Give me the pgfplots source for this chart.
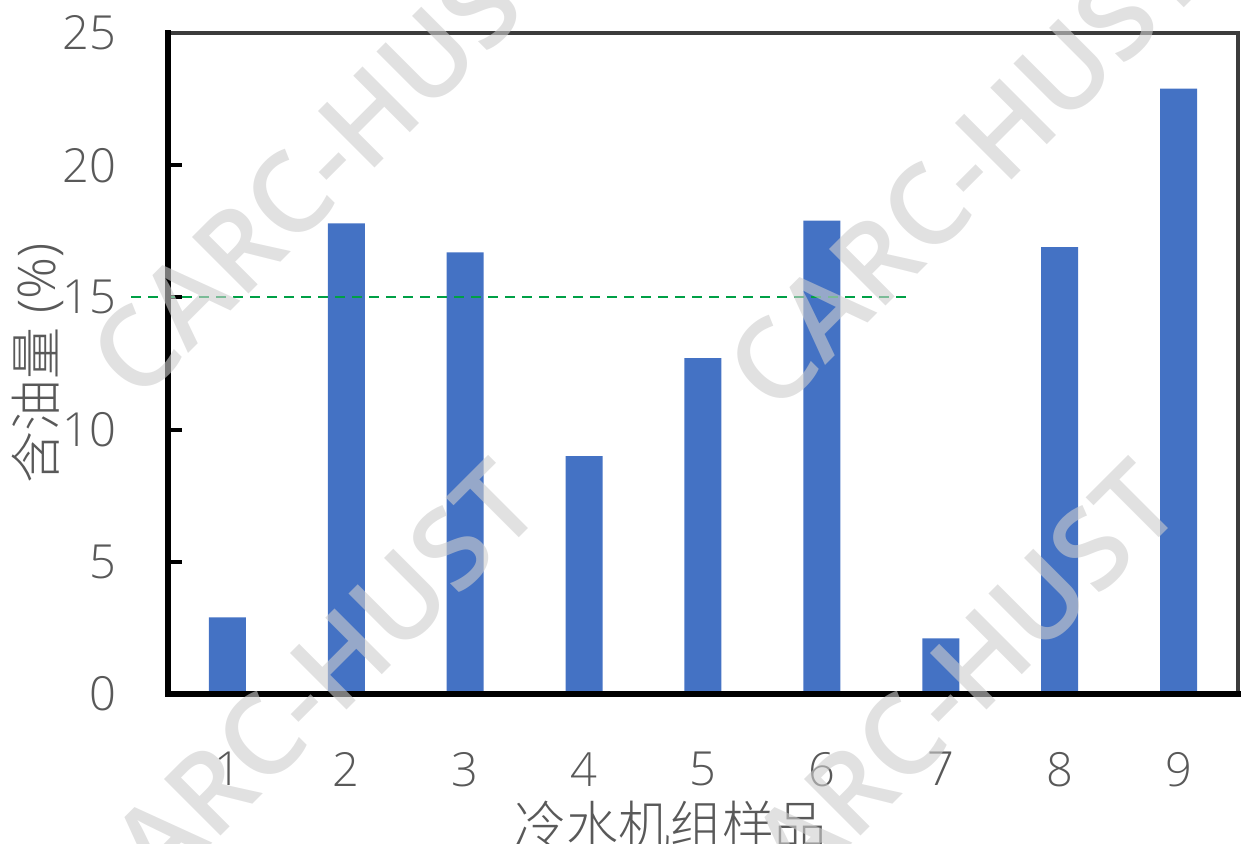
\documentclass[border=0pt]{standalone}
\usepackage{fontspec}
\usepackage{pgfplots}
\pgfplotsset{compat=1.18}
\setmainfont{Open Sans}[UprightFont={* Light}]
\newfontfamily\wmfont{Open Sans}[UprightFont={* Semibold}]
\newfontfamily\cjk{Noto Sans CJK SC Light}

\definecolor{barblue}{RGB}{68,114,196}
\definecolor{labelgray}{RGB}{89,89,89}
\definecolor{limitgreen}{RGB}{0,160,70}
\definecolor{framegray}{RGB}{60,60,60}
\definecolor{wmgray}{RGB}{205,205,205}

% oil content of each chiller sample (%)
\pgfplotstableread{
sample oil
1 2.9
2 17.8
3 16.7
4 9.0
5 12.7
6 17.9
7 2.1
8 16.9
9 22.9
}\oildata

\begin{document}
\begin{tikzpicture}[x=1pt,y=1pt]
\useasboundingbox (-84,-75) rectangle (537.5,347);
\begin{axis}[
  at={(0,0)}, anchor=south west,
  scale only axis, width=535pt, height=330.5pt,
  xmin=0.5, xmax=9.5, ymin=0, ymax=25,
  xtick={1,...,9}, ytick={0,5,...,25},
  axis line style={draw=none},
  tick align=inside, ytick pos=left,
  major tick length=7pt,
  xtick style={draw=none},
  ytick style={line width=2pt, black},
  ticklabel style={font=\fontsize{23.5}{27}\selectfont, text=labelgray, inner sep=0pt},
  xticklabel style={yshift=-29pt},
  yticklabel style={xshift=-25.5pt},
  /pgf/number format/assume math mode=true,
  clip=false,
]
\addplot[ybar, bar width=18.5pt, fill=barblue, draw=none] table[x=sample, y=oil] {\oildata};
\addplot[sharp plot, draw=limitgreen, line width=1pt, dash pattern=on 5pt off 3.5pt]
  coordinates {(0.19,15) (6.75,15)};
\draw[framegray, line width=1.6pt] (rel axis cs:0,1) -- (rel axis cs:1,1) -- (rel axis cs:1,0);
\draw[black, line width=2.6pt, line cap=rect] (rel axis cs:0,1) -- (rel axis cs:0,0) -- (rel axis cs:1,0);
\node[rotate=90, anchor=center, text=labelgray, font=\fontsize{26}{30}\selectfont]
  at ([xshift=-65pt]axis description cs:0,0.5) {{\cjk 含油量} (\%)};
\node[anchor=center, text=labelgray, font=\fontsize{26}{30}\selectfont]
  at ([yshift=-65.5pt]axis description cs:0.47,0) {\cjk 冷水机组样品};
\end{axis}
% watermark
\begin{scope}[every node/.style={rotate=45, text=wmgray, text opacity=0.6, font=\wmfont\fontsize{56}{60}\selectfont}]
\node at (80,268) {CARC-HUST};
\node at (398.5,262) {CARC-HUST};
\node at (66,-3) {CARC-HUST};
\node at (386,-3) {CARC-HUST};
\end{scope}
\end{tikzpicture}
\end{document}
